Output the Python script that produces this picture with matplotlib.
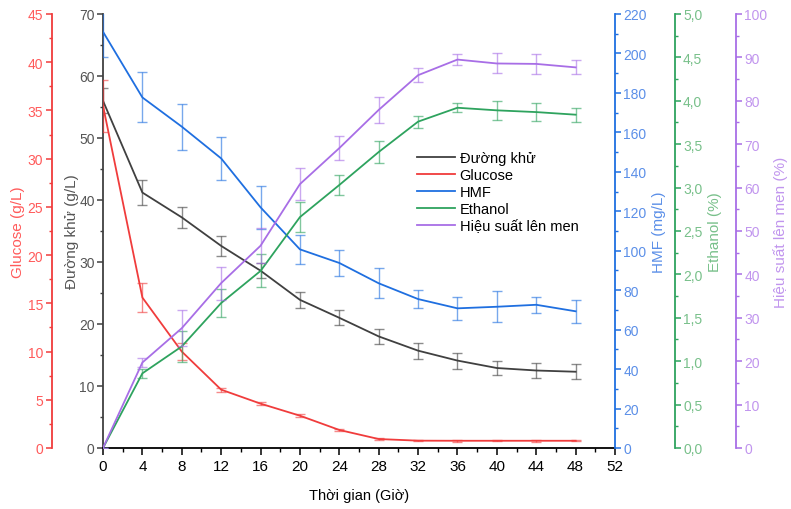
import matplotlib
matplotlib.use("Agg")
import matplotlib.pyplot as plt
from matplotlib.ticker import MultipleLocator, FuncFormatter

plt.rcParams['font.family'] = ['Liberation Sans', 'DejaVu Sans']

# ---- data ----
hours = [0, 4, 8, 12, 16, 20, 24, 28, 32, 36, 40, 44, 48]

duong_khu = [56.0, 41.2, 37.2, 32.6, 28.6, 23.9, 21.0, 18.0, 15.7, 14.1, 12.9, 12.5, 12.3]
duong_khu_err = [2.0, 2.0, 1.7, 1.6, 1.2, 1.3, 1.2, 1.2, 1.3, 1.3, 1.1, 1.2, 1.2]

glucose = [35.5, 15.6, 10.0, 6.05, 4.6, 3.35, 1.87, 0.93, 0.76, 0.75, 0.75, 0.75, 0.75]
glucose_err = [2.7, 1.5, 0.86, 0.2, 0.15, 0.15, 0.12, 0.08, 0.05, 0.1, 0.05, 0.08, 0.05]

hmf = [211, 177.7, 162.9, 146.8, 122.0, 100.7, 93.8, 83.5, 75.5, 70.8, 71.6, 72.6, 69.3]
hmf_err = [13, 12.7, 11.6, 10.8, 10.8, 7.2, 6.5, 7.6, 4.6, 5.9, 7.8, 4.0, 5.7]

ethanol = [0.0, 0.86, 1.17, 1.67, 2.04, 2.66, 3.03, 3.41, 3.76, 3.92, 3.89, 3.87, 3.84]
ethanol_err = [0.0, 0.05, 0.18, 0.16, 0.19, 0.17, 0.11, 0.13, 0.07, 0.05, 0.11, 0.10, 0.08]

hieu_suat = [0.0, 19.7, 27.6, 38.0, 46.6, 60.8, 69.1, 77.9, 85.9, 89.5, 88.6, 88.5, 87.7]
hieu_suat_err = [0.0, 1.0, 4.1, 3.8, 4.0, 3.7, 2.7, 3.0, 1.6, 1.2, 2.3, 2.3, 1.6]

# colours: line, tick-label
c_black, c_black_t = '#404040', '#555555'
c_red, c_red_t = '#f03c3c', '#ff5a5a'
c_blue, c_blue_t = '#1f6fe0', '#5b8fe8'
c_green, c_green_t = '#2ea35e', '#78c08a'
c_purple, c_purple_t = '#a86ee6', '#c195ee'

fig = plt.figure(figsize=(7.91, 5.10), dpi=100)
ax = fig.add_axes([103/791, 1 - 449/510, (615-103)/791, (449-15)/510])

fs = 10
lfs = 11


def style_axis(a, side, color, tcolor, major, minor, lo, hi, label, pad):
    a.set_ylim(lo, hi)
    a.yaxis.set_major_locator(MultipleLocator(major))
    a.yaxis.set_minor_locator(MultipleLocator(minor))
    a.yaxis.set_ticks_position(side)
    a.yaxis.set_label_position(side)
    for s in ['top', 'bottom', 'left', 'right']:
        a.spines[s].set_visible(False)
    a.spines[side].set_visible(True)
    a.spines[side].set_color(color)
    a.spines[side].set_linewidth(1.3)
    a.tick_params(axis='y', which='major', direction='out', length=4, width=1.1,
                  color=color, labelcolor=tcolor, labelsize=fs, pad=2)
    a.tick_params(axis='y', which='minor', direction='out', length=2.5, width=1.0, color=color)
    a.set_ylabel(label, color=tcolor, fontsize=lfs, labelpad=pad)


# main axis: Đường khử
style_axis(ax, 'left', c_black, c_black_t, 10, 5, 0, 70, 'Đường khử (g/L)', 0)
ax.spines['bottom'].set_visible(True)
ax.spines['bottom'].set_linewidth(1.3)
ax.set_xlim(0, 52)
ax.xaxis.set_major_locator(MultipleLocator(4))
ax.xaxis.set_minor_locator(MultipleLocator(2))
ax.tick_params(axis='x', which='major', direction='out', length=5, width=1.1,
               labelsize=fs + 1, pad=3)
ax.tick_params(axis='x', which='minor', direction='out', length=3, width=1.0)
ax.set_xlabel('Thời gian (Giờ)', fontsize=fs + 0.5, labelpad=11)

ax_g = ax.twinx()
style_axis(ax_g, 'left', c_red, c_red_t, 5, 2.5, 0, 45, 'Glucose (g/L)', 2)
ax_g.spines['left'].set_position(('outward', 37))

ax_h = ax.twinx()
style_axis(ax_h, 'right', c_blue, c_blue_t, 20, 10, 0, 220, 'HMF (mg/L)', 4)

ax_e = ax.twinx()
style_axis(ax_e, 'right', c_green, c_green_t, 0.5, 0.25, 0, 5.0, 'Ethanol (%)', 4)
ax_e.spines['right'].set_position(('outward', 43))
ax_e.yaxis.set_major_formatter(FuncFormatter(lambda v, p: f'{v:.1f}'.replace('.', ',')))

ax_p = ax.twinx()
style_axis(ax_p, 'right', c_purple, c_purple_t, 10, 5, 0, 100, 'Hiệu suất lên men (%)', 4)
ax_p.spines['right'].set_position(('outward', 87))

series = [
    (ax, duong_khu, duong_khu_err, c_black, 'Đường khử'),
    (ax_g, glucose, glucose_err, c_red, 'Glucose'),
    (ax_h, hmf, hmf_err, c_blue, 'HMF'),
    (ax_e, ethanol, ethanol_err, c_green, 'Ethanol'),
    (ax_p, hieu_suat, hieu_suat_err, c_purple, 'Hiệu suất lên men'),
]
handles = []
for a, y, e, c, name in series:
    a.errorbar(hours, y, yerr=e, fmt='none', ecolor=c, elinewidth=1.0,
               capsize=3.3, capthick=1.0, alpha=0.6, clip_on=True)
    ln, = a.plot(hours, y, color=c, lw=1.3, label=name)
    handles.append(ln)

ax_p.legend(handles=handles, loc='upper left', bbox_to_anchor=(410/791, 1 - 145/510),
            bbox_transform=fig.transFigure, frameon=False, fontsize=fs + 0.5,
            handlelength=2.6, handletextpad=0.3, labelspacing=0.2, borderpad=0)

fig.savefig('out.png', dpi=100)
